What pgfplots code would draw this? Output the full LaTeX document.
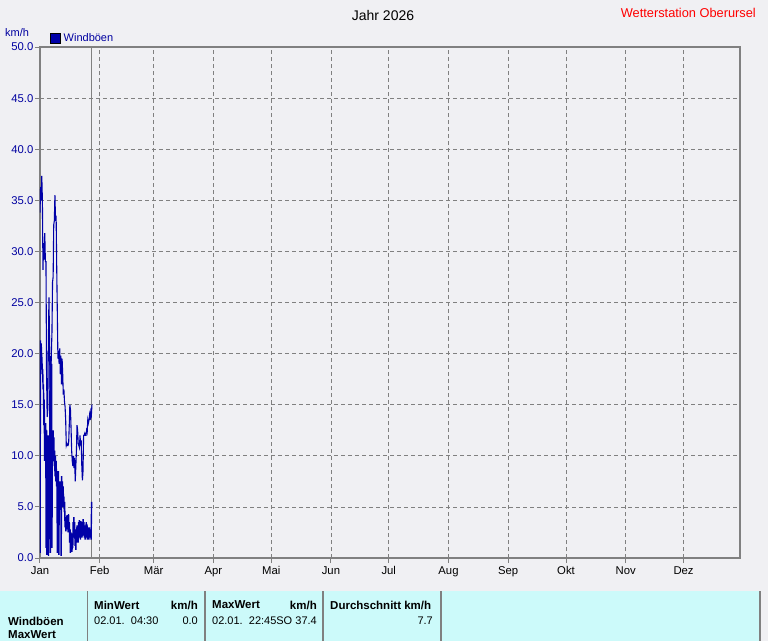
\documentclass[border=0pt]{standalone}
\usepackage{fontspec}
\setmainfont{Liberation Sans}
\usepackage{pgfplots}
\pgfplotsset{compat=1.18}
\definecolor{bgc}{RGB}{240,240,243}
\definecolor{gridgray}{RGB}{128,128,128}
\definecolor{lineblue}{RGB}{0,0,168}
\definecolor{labblue}{RGB}{0,0,160}
\definecolor{tabcyan}{RGB}{204,250,250}
\definecolor{redtxt}{RGB}{255,0,0}
\begin{document}
\begin{tikzpicture}[x=1pt,y=1pt]
\useasboundingbox (0,0) rectangle (768,-641);
\fill[bgc] (0,0) rectangle (768,-641);
% titles
\node[font=\fontsize{14}{16}\selectfont] at (383,-15) {Jahr 2026};
\node[font=\fontsize{12.8}{15}\selectfont, text=redtxt, anchor=east, inner sep=0pt] at (756,-12.5) {Wetterstation Oberursel};
\node[font=\fontsize{11}{13}\selectfont, text=labblue, anchor=west, inner sep=0pt] at (5,-33) {km/h};
% legend
\fill[lineblue] (50,-33) rectangle (60,-43);
\draw[black, line width=0.8pt] (50,-33) rectangle (60,-43);
\node[font=\fontsize{11}{13}\selectfont, text=labblue, anchor=west, inner sep=0pt] at (63.5,-38) {Windböen};
\begin{axis}[
  at={(40pt,-558pt)}, anchor=south west,
  scale only axis, width=700pt, height=511pt,
  xmin=0, xmax=363.3, ymin=0, ymax=50,
  xtick={0,31,59,90,120,151,181,212,243,273,304,334},
  xticklabels={Jan,Feb,Mär,Apr,Mai,Jun,Jul,Aug,Sep,Okt,Nov,Dez},
  ytick={0,5,10,15,20,25,30,35,40,45,50},
  yticklabel={\pgfmathprintnumber[fixed,fixed zerofill,precision=1]{\tick}},
  /pgf/number format/assume math mode=true,
  ticklabel style={font=\fontsize{11.3}{13}\selectfont},
  yticklabel style={text=labblue, inner sep=1.5pt},
  xticklabel style={text=black},
  tick pos=left, tick align=outside, major tick length=5pt,
  tick style={gridgray, line width=1pt},
  xmajorgrids, ymajorgrids,
  major grid style={gridgray, line width=0.8pt, dash pattern=on 4pt off 3pt},
  axis line style={gridgray, line width=2pt},
]
\draw[gridgray, line width=1pt] (axis cs:26.9,0) -- (axis cs:26.9,50);
% lower (dense) trace
\addplot[lineblue, line width=1.4pt, line join=miter] coordinates {
(0.0,6.8) (0.1,0.5) (0.2,21.3) (0.4,20.5) (0.6,21.0) (0.8,20.0) (1.0,19.5) (1.2,18.0)
(1.4,18.5) (1.6,16.5) (1.8,17.0) (2.0,13.0) (2.2,15.5) (2.4,9.5) (2.6,13.0) (2.8,10.0)
(3.0,13.2) (3.2,1.0) (3.4,12.5) (3.6,0.3) (3.8,11.0) (4.0,5.5) (4.2,12.0) (4.4,0.2)
(4.6,9.0) (4.8,11.5) (5.0,2.0) (5.2,19.5) (5.4,0.5) (5.6,19.4) (5.8,4.0) (6.0,19.0)
(6.2,1.0) (6.4,12.0) (6.6,10.0) (6.8,12.5) (7.0,9.5) (7.2,11.8) (7.4,9.0) (7.6,10.5)
(7.8,8.0) (8.0,10.0) (8.2,7.5) (8.4,9.5) (8.6,7.0) (8.8,8.5) (9.0,0.5) (9.2,8.0)
(9.4,6.5) (9.6,8.5) (9.8,0.3) (10.0,7.0) (10.2,6.0) (10.4,7.5) (10.6,5.5) (10.8,7.3)
(11.0,0.2) (11.2,8.0) (11.4,6.0) (11.6,7.5) (11.8,5.0) (12.0,7.0) (12.2,5.5) (12.4,6.0)
(12.6,4.5) (12.8,5.5) (13.0,3.0) (13.2,4.0) (13.4,2.6) (13.6,3.8) (13.8,2.8) (14.0,4.2)
(14.2,3.0) (14.4,3.8) (14.6,2.5) (14.8,4.3) (15.0,3.0) (15.2,3.5) (15.4,1.5) (15.6,2.8)
(15.8,0.5) (16.0,2.5) (16.2,0.8) (16.4,2.4) (16.6,0.6) (16.8,2.0) (17.0,1.0) (17.2,3.5)
(17.4,2.2) (17.6,4.0) (17.8,2.0) (18.0,3.5) (18.2,1.2) (18.4,2.8) (18.6,0.8) (18.8,2.5)
(19.0,1.5) (19.2,3.2) (19.4,2.0) (19.6,2.7) (19.8,1.5) (20.0,3.5) (20.2,2.5) (20.4,3.7)
(20.6,2.0) (20.8,3.3) (21.0,1.8) (21.2,3.6) (21.4,2.5) (21.6,3.5) (21.8,2.0) (22.0,3.0)
(22.2,2.2) (22.4,3.8) (22.6,2.8) (22.8,3.5) (23.0,2.0) (23.2,3.2) (23.4,1.8) (23.6,3.0)
(23.8,2.0) (24.0,3.5) (24.2,2.5) (24.4,3.3) (24.6,1.8) (24.8,3.0) (25.0,2.0) (25.2,2.5)
(25.4,1.8) (25.6,3.0) (25.8,2.0) (26.2,2.8) (26.5,1.8) (26.8,5.5)
};
% upper (thin) trace
\addplot[lineblue, line width=1.1pt, line join=miter] coordinates {
(0.00,33.8) (0.31,36.3) (0.62,35.0) (0.93,37.4) (1.24,35.0) (1.55,28.2) (1.86,30.8) (2.17,29.2)
(2.48,31.8) (2.79,29.0) (3.10,29.0) (3.41,18.0) (3.72,13.8) (4.03,14.5) (4.34,21.0) (4.65,25.5)
(4.96,21.0) (5.27,15.8) (5.58,17.0) (5.89,20.0) (6.20,22.0) (6.51,27.0) (6.82,27.5) (7.13,32.6)
(7.44,33.0) (7.75,35.5) (8.06,33.0) (8.37,33.5) (8.68,28.4) (8.99,24.0) (9.30,19.5) (9.61,20.3)
(9.92,19.0) (10.23,20.5) (10.54,18.0) (10.85,19.8) (11.16,17.0) (11.47,19.5) (11.78,18.0) (12.09,16.0)
(12.40,16.5) (12.71,15.3) (13.02,14.8) (13.33,13.5) (13.64,11.0) (13.95,11.2) (14.26,11.0) (14.57,11.0)
(14.88,11.3) (15.19,13.0) (15.50,15.0) (15.81,14.5) (16.12,12.7) (16.43,10.5) (16.74,9.5) (17.05,9.0)
(17.36,10.0) (17.67,8.8) (17.98,9.8) (18.29,7.5) (18.60,9.0) (18.91,10.5) (19.22,13.0) (19.53,12.5)
(19.84,11.2) (20.15,11.0) (20.46,10.8) (20.77,12.0) (21.08,11.0) (21.39,11.5) (21.70,9.0) (22.01,7.6)
(22.32,8.5) (22.63,12.0) (22.94,12.0) (23.25,12.2) (23.56,12.0) (23.87,12.0) (24.18,12.5) (24.49,12.3)
(24.80,13.5) (25.11,13.2) (25.42,13.5) (25.73,14.0) (26.04,13.5) (26.35,14.3) (26.66,14.0) (26.97,15.0)
};
\end{axis}
% bottom table
\fill[tabcyan] (0,-591) rectangle (760,-641);
\foreach \xx in {87.5,205,323,441,760} {
  \draw[gridgray, line width=1.5pt] (\xx,-591) -- (\xx,-641);
}
\begin{scope}[every node/.style={inner sep=0pt, font=\fontsize{11}{13}\selectfont}]
\node[anchor=west, font=\fontsize{11.5}{13}\selectfont\bfseries] at (8,-621) {Windböen};
\node[anchor=west, font=\fontsize{11.5}{13}\selectfont\bfseries] at (8,-634.5) {MaxWert};
\node[anchor=west, font=\fontsize{11.5}{13}\selectfont\bfseries] at (94,-605) {MinWert};
\node[anchor=east, font=\fontsize{11.5}{13}\selectfont\bfseries] at (198,-605) {km/h};
\node[anchor=west] at (94,-621) {02.01.\ \ 04:30};
\node[anchor=east] at (198,-621) {0.0};
\node[anchor=west, font=\fontsize{11.5}{13}\selectfont\bfseries] at (212,-605) {MaxWert};
\node[anchor=east, font=\fontsize{11.5}{13}\selectfont\bfseries] at (317,-605) {km/h};
\node[anchor=west] at (212,-621) {02.01.\ \ 22:45SO};
\node[anchor=east] at (317,-621) {37.4};
\node[anchor=west, font=\fontsize{11.5}{13}\selectfont\bfseries] at (330,-605) {Durchschnitt km/h};
\node[anchor=east] at (433,-621) {7.7};
\end{scope}
\end{tikzpicture}
\end{document}
